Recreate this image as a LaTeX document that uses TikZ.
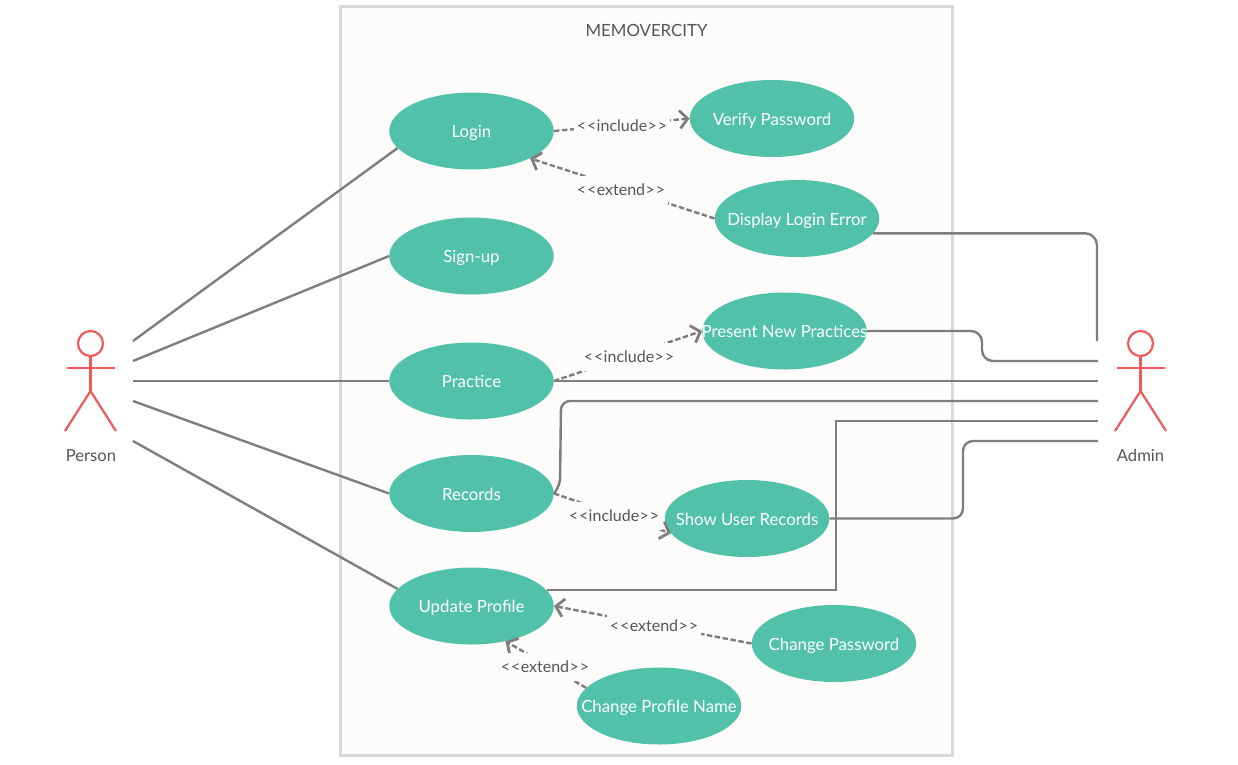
\documentclass[tikz,border=0pt]{standalone}
\usepackage{fontspec}
\setmainfont{Lato}
\usetikzlibrary{shapes.geometric,arrows.meta}
\definecolor{teal}{HTML}{51C1AA}
\definecolor{actorred}{HTML}{F15A5A}
\definecolor{wire}{HTML}{7F7D7D}
\definecolor{paper}{HTML}{FDFCFA}
\definecolor{frame}{HTML}{D9D9D9}
\definecolor{ink}{HTML}{555555}
\newcommand{\uclabel}[1]{\makebox[0pt][c]{\raisebox{-6.8pt}[0pt][0pt]{#1}}}
\newcommand{\stereo}[1]{<\kern1pt<\kern0.4pt#1\kern0.4pt>\kern1pt>}
\tikzset{
  usecase/.style={ellipse,fill=teal,draw=none,inner sep=0pt,minimum width=164.5pt,minimum height=77pt,text=white,font=\fontsize{16.8}{18}\selectfont},
  assoc/.style={draw=wire,line width=2.4pt},
  rel/.style={draw=wire,line width=2.4pt,dash pattern=on 5.5pt off 2.5pt,-{Straight Barb[length=8pt,width=18pt,line width=2.8pt]}},
  rellabel/.style={fill=paper,text=ink,inner xsep=2.5pt,inner ysep=0pt,minimum height=28pt,font=\fontsize{16}{17}\selectfont},
  actorline/.style={draw=actorred,line width=2.2pt},
  actorname/.style={text=ink,anchor=base,font=\fontsize{16.6}{18}\selectfont},
}
\begin{document}
\begin{tikzpicture}[x=1pt,y=-1pt]
\useasboundingbox (0,0) rectangle (1238,764);
\fill[white] (0,0) rectangle (1238,764);
\node[draw=frame,fill=paper,line width=2.5pt,inner sep=0pt,minimum width=612pt,minimum height=749pt] (system) at (646.5,381) {};
\node[text=ink,font=\fontsize{16.8}{18}\selectfont] (title) at (646.5,30.5) {MEMOVERCITY};

\node[usecase] (login) at (471.5,131) {\uclabel{Login}};
\node[usecase] (verify) at (772,118.5) {\uclabel{Verify Password}};
\node[usecase] (display) at (797,218.5) {\uclabel{Display Login Error}};
\node[usecase] (signup) at (471.5,256) {\uclabel{Sign-up}};
\node[usecase] (present) at (784.5,331) {\uclabel{Present New Practices}};
\node[usecase] (practice) at (471.5,381) {\uclabel{Practice}};
\node[usecase] (records) at (471.5,493.5) {\uclabel{Records}};
\node[usecase] (show) at (747,518.5) {\uclabel{Show User Records}};
\node[usecase] (update) at (471.5,606) {\uclabel{Update Profile}};
\node[usecase] (password) at (834,643.5) {\uclabel{Change Password}};
\node[usecase] (name) at (659,706) {\uclabel{Change Profile Name}};

% Person
\node[circle,draw=actorred,line width=2.2pt,minimum size=25pt,inner sep=0pt] (phead) at (90.5,343.5) {};
\coordinate (phip) at (90.5,391);
\coordinate (parmL) at (67,368);
\coordinate (parmR) at (114.5,368);
\coordinate (plegL) at (65,431);
\coordinate (plegR) at (116,431);
\draw[actorline] (phead.south) -- (phip);
\draw[actorline] (parmL) -- (parmR);
\draw[actorline] (plegL) -- (phip) -- (plegR);
\node[actorname] (person) at (91,461) {Person};

% Admin
\node[circle,draw=actorred,line width=2.2pt,minimum size=25pt,inner sep=0pt] (ahead) at (1140.5,343.5) {};
\coordinate (ahip) at (1140.5,391);
\coordinate (aarmL) at (1117,368);
\coordinate (aarmR) at (1164.5,368);
\coordinate (alegL) at (1115,431);
\coordinate (alegR) at (1166,431);
\draw[actorline] (ahead.south) -- (ahip);
\draw[actorline] (aarmL) -- (aarmR);
\draw[actorline] (alegL) -- (ahip) -- (alegR);
\node[actorname] (admin) at (1140.5,461) {Admin};

% connector ends near actors
\coordinate (p1) at (133,341);
\coordinate (p2) at (133,361);
\coordinate (p3) at (133,381);
\coordinate (p4) at (133,401);
\coordinate (p5) at (133,441);
\coordinate (a1) at (1097,341);
\coordinate (a2) at (1098,361);
\coordinate (a3) at (1098,381);
\coordinate (a4) at (1098,401);
\coordinate (a5) at (1098,421);
\coordinate (a6) at (1098,441);

\draw[assoc] (p1) -- (login.193);
\draw[assoc] (p2) -- (signup.west);
\draw[assoc] (p3) -- (practice.west);
\draw[assoc] (p4) -- (records.west);
\draw[assoc] (p5) -- (update.167);

\draw[assoc,rounded corners=12pt] (display.-11.6) -| (a1);
\draw[assoc,rounded corners=11pt] (present.east) -- (982,331) -- (982,361) -- (a2);
\draw[assoc] (practice.east) -- (a3);
\draw[assoc,rounded corners=9pt] (records.east) -- (560,487) -- (561,401) -- (a4);
\draw[assoc] (update.12) -| (836,421) -- (a5);
\draw[assoc,rounded corners=10pt] (show.east) -- (963,518.5) -- (963,441) -- (a6);

\draw[rel] (login.east) -- (verify.west);
\node[rellabel] (l1) at (622,125.5) {\stereo{include}};
\draw[rel] (display.west) -- (login.-25.5);
\node[rellabel] (l2) at (621,189.5) {\stereo{extend}};
\draw[rel] (practice.east) -- (present.west);
\node[rellabel] (l3) at (629,357) {\stereo{include}};
\draw[rel] (records.east) -- (show.191.6);
\node[rellabel] (l4) at (614,515.5) {\stereo{include}};
\draw[rel] (password.west) -- (update.east);
\node[rellabel] (l5) at (654,625.5) {\stereo{extend}};
\draw[rel] (name.166) -- (update.-46);
\node[rellabel] (l6) at (545,667) {\stereo{extend}};
\end{tikzpicture}
\end{document}
